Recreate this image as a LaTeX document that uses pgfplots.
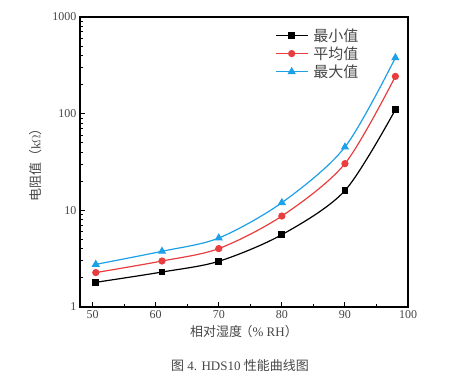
\documentclass[border=0pt]{standalone}
\usepackage{fontspec}
\setmainfont{Liberation Serif}
\newfontfamily\cjk{Noto Sans CJK SC}
\usepackage{pgfplots}
\pgfplotsset{compat=1.18}
\definecolor{cred}{RGB}{232,62,64}
\definecolor{cblue}{RGB}{28,160,232}
\definecolor{txt}{RGB}{70,70,70}
\begin{document}
\begin{tikzpicture}
\path (0pt,0pt) rectangle (456pt,380pt);
\begin{axis}[
  at={(80pt,73pt)}, anchor=south west,
  scale only axis, width=328pt, height=290pt,
  xmin=48, xmax=100, ymin=1, ymax=1000,
  ymode=log,
  axis line style={line width=1.4pt},
  xtick={50,60,70,80,90,100},
  minor xtick={55,65,75,85,95},
  ytick={1,10,100,1000},
  yticklabels={1,10,100,1000},
  minor ytick={2,3,4,5,6,7,8,9,20,30,40,50,60,70,80,90,200,300,400,500,600,700,800,900},
  tick pos=left,
  major tick length=5pt, minor tick length=3pt,
  tick style={line width=1pt, black},
  tick label style={font=\fontsize{12}{14}\selectfont, text=txt},
  /pgf/number format/assume math mode=true,
  xlabel={\cjk 相对湿度\hspace{-0.2em}（\rmfamily\% RH\cjk）},
  ylabel={\cjk 电阻值（\rmfamily k$\Omega$\cjk）},
  label style={font=\fontsize{13}{15}\selectfont, text=txt},
  ylabel style={yshift=4pt},
  legend style={draw=none, fill=none, at={(0.585,0.975)}, anchor=north west,
    font=\cjk\fontsize{15}{17}\selectfont, text=txt, row sep=0pt,
    /tikz/every odd column/.append style={column sep=3pt}},
  legend image code/.code={\draw[mark repeat=2,mark phase=2,#1] plot coordinates {(0pt,0pt) (16pt,0pt) (32pt,0pt)};},
  legend cell align=left,
]
\addplot[black, line width=1.2pt, smooth, mark=square*, mark size=2.8pt, mark options={solid}]
  coordinates {(50.5,1.80) (61,2.30) (70,2.97) (80,5.6) (90,16.0) (98,110)};
\addlegendentry{最小值}
\addplot[cred, line width=1.2pt, smooth, mark=*, mark size=3pt]
  coordinates {(50.5,2.27) (61,2.99) (70,4.02) (80,8.73) (90,30.4) (98,243)};
\addlegendentry{平均值}
\addplot[cblue, line width=1.2pt, smooth, mark=triangle*, mark size=3.6pt]
  coordinates {(50.5,2.76) (61,3.77) (70,5.17) (80,12.0) (90,45.1) (98,379)};
\addlegendentry{最大值}
\end{axis}
\node[font=\fontsize{13}{15}\selectfont, text=txt] at (240pt,14pt) {{\cjk 图} 4. HDS10 {\cjk 性能曲线图}};
\end{tikzpicture}
\end{document}
